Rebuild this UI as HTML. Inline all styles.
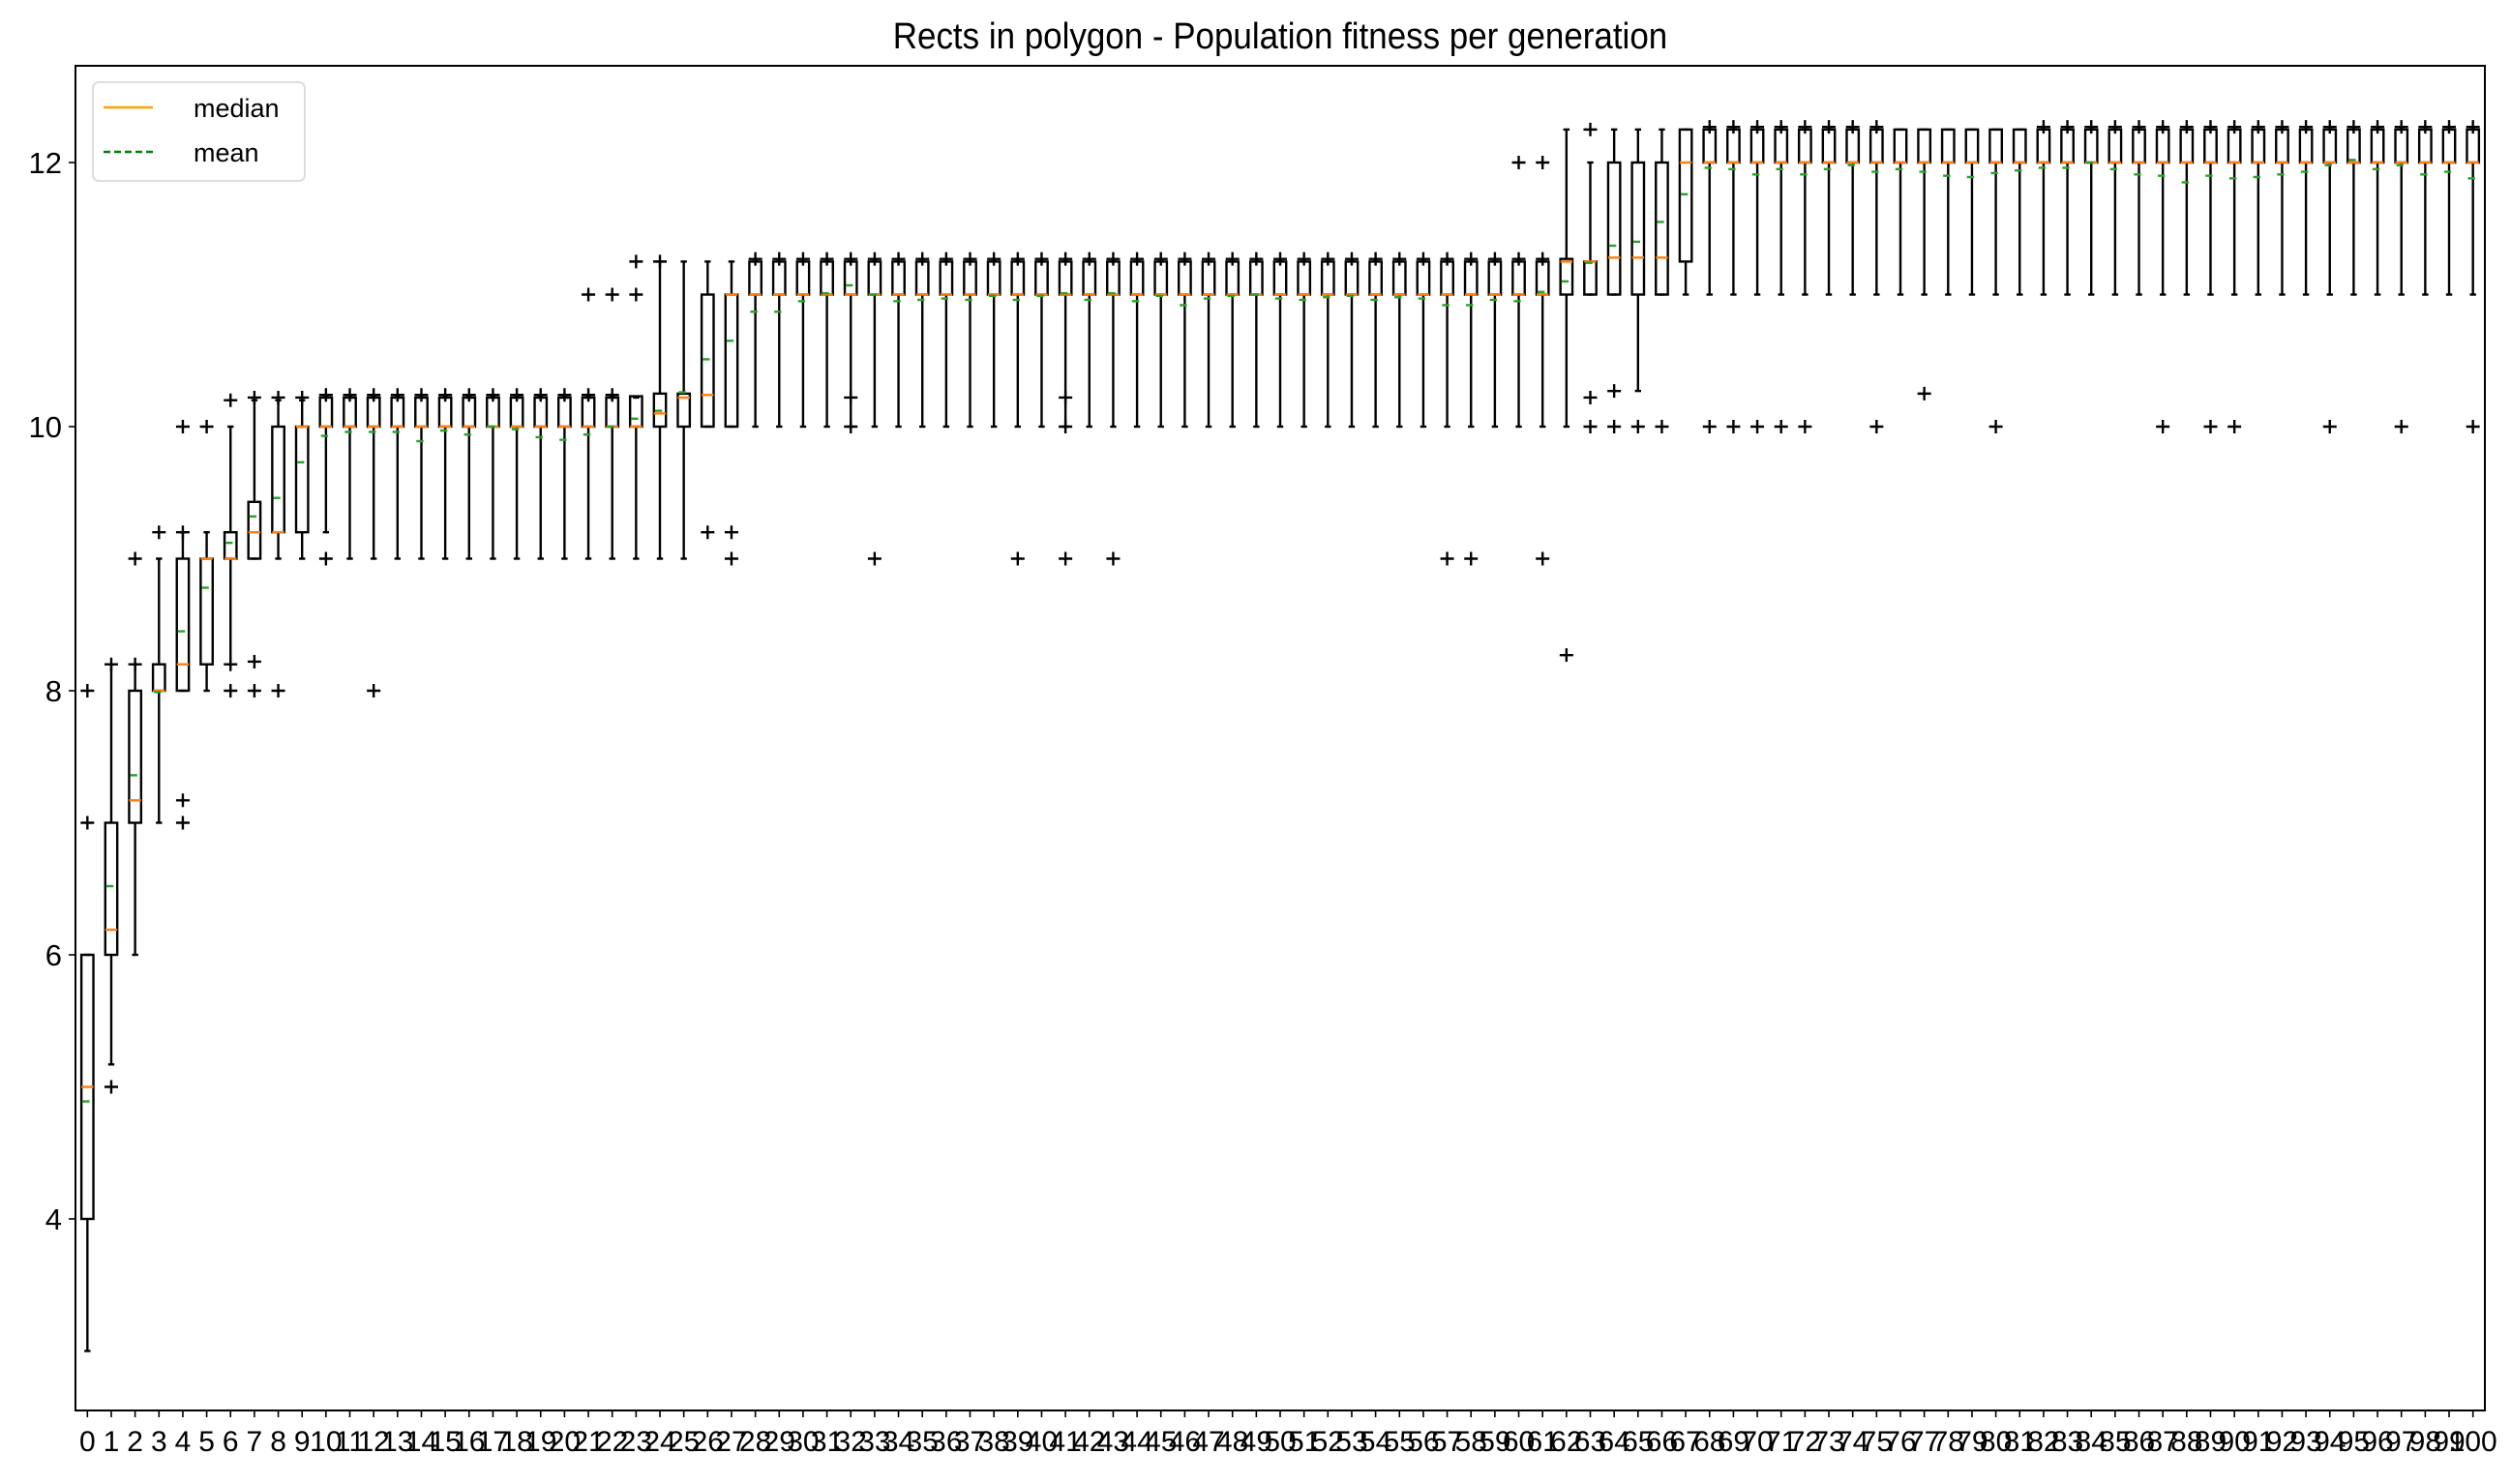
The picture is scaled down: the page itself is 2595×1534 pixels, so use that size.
<!DOCTYPE html>
<html><head><meta charset="utf-8">
<style>
html,body{margin:0;padding:0;background:#fff;}
svg text{font-family:"Liberation Sans",sans-serif;}
</style></head>
<body>
<svg id="chart" width="2595" height="1529" viewBox="0 0 2595 1529" xmlns="http://www.w3.org/2000/svg">
<rect width="2595" height="1529" fill="#fff"/>
<text x="1323" y="50" font-size="38" text-anchor="middle" transform="translate(1323,0) scale(0.92,1) translate(-1323,0)">Rects in polygon - Population fitness per generation</text>
<g id="marks"></g>
<g id="axes"></g>
<g>
<rect x="96" y="85" width="219" height="102" rx="6" fill="#fff" stroke="#ddd" stroke-width="2" fill-opacity="0.8"/>
<line x1="107" y1="111" x2="158" y2="111" stroke="#ffa500" stroke-width="2.5"/>
<text x="200" y="121" font-size="27">median</text>
<line x1="107" y1="157" x2="158" y2="157" stroke="#008000" stroke-width="2.5" stroke-dasharray="7,4"/>
<text x="200" y="167" font-size="27">mean</text>
</g>
</svg>
<script>
const q1Values = [
 4,6,7,8,8,8.2,9,9,9.2,9.2,
 10,10,10,10,10,10,10,10,10,10,
 10,10,10,10,10,10,10,10,11,11,
 11,11,11,11,11,11,11,11,11,11,
 11,11,11,11,11,11,11,11,11,11,
 11,11,11,11,11,11,11,11,11,11,
 11,11,11,11,11,11,11,11.25,12,12,
 12,12,12,12,12,12,12,12,12,12,
 12,12,12,12,12,12,12,12,12,12,
 12,12,12,12,12,12,12,12,12,12,
 12];
const q3Values = [
 6,7,8,8.2,9,9,9.2,9.43,10,10,
 10.22,10.22,10.22,10.22,10.22,10.22,10.22,10.22,10.22,10.22,
 10.22,10.22,10.22,10.23,10.25,10.25,11,11,11.25,11.25,
 11.25,11.25,11.25,11.25,11.25,11.25,11.25,11.25,11.25,11.25,
 11.25,11.25,11.25,11.25,11.25,11.25,11.25,11.25,11.25,11.25,
 11.25,11.25,11.25,11.25,11.25,11.25,11.25,11.25,11.25,11.25,
 11.25,11.25,11.27,11.25,12,12,12,12.25,12.25,12.25,
 12.25,12.25,12.25,12.25,12.25,12.25,12.25,12.25,12.25,12.25,
 12.25,12.25,12.25,12.25,12.25,12.25,12.25,12.25,12.25,12.25,
 12.25,12.25,12.25,12.25,12.25,12.25,12.25,12.25,12.25,12.25,
 12.25];
const medianValues = [
 5,6.19,7.17,8,8.2,9,9,9.2,9.2,10,
 10,10,10,10,10,10,10,10,10,10,
 10,10,10,10,10.1,10.22,10.24,11,11,11,
 11,11,11,11,11,11,11,11,11,11,
 11,11,11,11,11,11,11,11,11,11,
 11,11,11,11,11,11,11,11,11,11,
 11,11,11.25,11.25,11.28,11.28,11.28,12,12,12,
 12,12,12,12,12,12,12,12,12,12,
 12,12,12,12,12,12,12,12,12,12,
 12,12,12,12,12,12,12,12,12,12,
 12];
const meanValues = [
 4.89,6.52,7.36,7.99,8.45,8.78,9.12,9.32,9.46,9.73,
 9.93,9.96,9.96,9.96,9.89,9.97,9.94,10,9.98,9.92,
 9.9,9.94,10,10.06,10.12,10.26,10.51,10.65,10.87,10.87,
 10.95,11.01,11.07,11,10.95,10.96,10.97,10.96,10.99,10.96,
 10.99,11.01,10.96,11.01,10.95,10.99,10.92,10.97,10.99,11,
 10.97,10.96,10.98,10.99,10.96,10.98,10.97,10.92,10.92,10.96,
 10.95,11.02,11.1,11.24,11.37,11.4,11.55,11.76,11.96,11.95,
 11.91,11.95,11.91,11.95,11.98,11.93,11.95,11.93,11.9,11.89,
 11.92,11.94,11.96,11.96,12,11.95,11.91,11.9,11.85,11.9,
 11.88,11.89,11.91,11.93,11.98,12.02,11.95,11.98,11.91,11.93,
 11.88];
const whiskerLow = [
 3,5.17,6,7,8,8,8.2,9,9,9,
 9.2,9,9,9,9,9,9,9,9,9,
 9,9,9,9,9,9,10,10,10,10,
 10,10,10,10,10,10,10,10,10,10,
 10,10,10,10,10,10,10,10,10,10,
 10,10,10,10,10,10,10,10,10,10,
 10,10,10,11,11,10.27,11,11,11,11,
 11,11,11,11,11,11,11,11,11,11,
 11,11,11,11,11,11,11,11,11,11,
 11,11,11,11,11,11,11,11,11,11,
 11];
const whiskerHigh = [
 6,8.2,8.2,9,9.2,9.2,10,10.2,10.2,10.2,
 10.22,10.22,10.22,10.22,10.22,10.22,10.22,10.22,10.22,10.22,
 10.22,10.22,10.22,10.22,11.25,11.25,11.25,11.25,11.25,11.25,
 11.25,11.25,11.25,11.25,11.25,11.25,11.25,11.25,11.25,11.25,
 11.25,11.25,11.25,11.25,11.25,11.25,11.25,11.25,11.25,11.25,
 11.25,11.25,11.25,11.25,11.25,11.25,11.25,11.25,11.25,11.25,
 11.25,11.25,12.25,12,12.25,12.25,12.25,12.25,12.25,12.25,
 12.25,12.25,12.25,12.25,12.25,12.25,12.25,12.25,12.25,12.25,
 12.25,12.25,12.25,12.25,12.25,12.25,12.25,12.25,12.25,12.25,
 12.25,12.25,12.25,12.25,12.25,12.25,12.25,12.25,12.25,12.25,
 12.25];
const flierValues = [
 [8,7],[5,8.2],[9,8.2],[9.2],[9.2,10,7.17,7],[10],[10.2,8.2,8],[10.22,8.22,8],[10.22,8],[10.22],
 [10.24,9],[10.24],[10.24,8],[10.24],[10.24],[10.24],[10.24],[10.24],[10.24],[10.24],
 [10.24],[10.24,11],[10.24,11],[11,11.25],[11.25],[],[9.2],[9.2,9],[11.27],[11.27],
 [11.27],[11.27],[11.27,10.22,10],[11.27,9],[11.27],[11.27],[11.27],[11.27],[11.27],[11.27,9],
 [11.27],[11.27,10.22,10,9],[11.27],[11.27,9],[11.27],[11.27],[11.27],[11.27],[11.27],[11.27],
 [11.27],[11.27],[11.27],[11.27],[11.27],[11.27],[11.27],[11.27,9],[11.27,9],[11.27],
 [11.27,12],[11.27,12,9],[8.27],[12.25,10.22,10],[10.27,10],[10],[10],[],[12.27,10],[12.27,10],
 [12.27,10],[12.27,10],[12.27,10],[12.27],[12.27],[12.27,10],[],[10.25],[],[],
 [10],[],[12.27],[12.27],[12.27],[12.27],[12.27],[12.27,10],[12.27],[12.27,10],
 [12.27,10],[12.27],[12.27],[12.27],[12.27,10],[12.27],[12.27],[12.27,10],[12.27],[12.27],
 [12.27,10]];
const yTicks = [4,6,8,10,12];
const generations = Array.from({length:101},(_,i)=>i);

const NS='http://www.w3.org/2000/svg';
const L=78,R=2568,T=68,B=1458;
function X(i){return L+(i+0.5)*(R-L)/101;}
function Y(v){return 441-(v-10)*136.5;}
function mk(tag,attrs,parent){const e=document.createElementNS(NS,tag);for(const k in attrs)e.setAttribute(k,attrs[k]);parent.appendChild(e);return e;}
function val(arr,i){return arr[Math.min(i,arr.length-1)];}
const marks=document.getElementById('marks');
const axes=document.getElementById('axes');
const hw=6.2, cw=3.2;
generations.forEach(i=>{
  const g=mk('g',{},marks);
  
  
  const x=X(i);
  const q1=val(q1Values,i),q3=val(q3Values,i),md=val(medianValues,i),mu=val(meanValues,i),lo=val(whiskerLow,i),hi=val(whiskerHigh,i);
  const s={stroke:'#000','stroke-width':2.4,fill:'none'};
  const w1=mk('line',Object.assign({x1:x,x2:x,y1:Y(q1),y2:Y(lo)},s),g);
  
  
  const w2=mk('line',Object.assign({x1:x,x2:x,y1:Y(q3),y2:Y(hi)},s),g);
  
  
  const c1=mk('line',Object.assign({x1:x-cw,x2:x+cw,y1:Y(lo),y2:Y(lo)},s),g);
  
  
  const c2=mk('line',Object.assign({x1:x-cw,x2:x+cw,y1:Y(hi),y2:Y(hi)},s),g);
  
  
  const r=mk('rect',Object.assign({x:x-hw,y:Y(q3),width:2*hw,height:Math.max(0,Y(q1)-Y(q3))},s),g);
  
  
  const m=mk('line',{x1:x-hw,x2:x+hw,y1:Y(md),y2:Y(md),stroke:'#ff7f0e','stroke-width':2.4},g);
  
  
  const mn=mk('line',{x1:x-hw+1,x2:x+hw-4,y1:Y(mu),y2:Y(mu),stroke:'#2ca02c','stroke-width':2.4},g);
  
  
  (flierValues[i]||[]).forEach(v=>{
    const p=mk('path',{d:`M${x-7},${Y(v)}h14M${x},${Y(v)-7}v14`,stroke:'#000','stroke-width':2.4},g);
    
    
  });
  const t=mk('line',{x1:x,x2:x,y1:B,y2:B+7,stroke:'#000','stroke-width':1.6},axes);
  
  
  const tl=mk('text',{x:x,y:B+42,'font-size':30,'text-anchor':'middle'},axes);
  
  
  tl.textContent=String(i);
});
yTicks.forEach(v=>{
  const t=mk('line',{x1:L-7,x2:L,y1:Y(v),y2:Y(v),stroke:'#000','stroke-width':1.6},axes);
  
  
  const tl=mk('text',{x:L-14,y:Y(v)+11,'font-size':31,'text-anchor':'end'},axes);
  
  
  tl.textContent=String(v);
});
const frame=mk('rect',{x:L,y:T,width:R-L,height:B-T,fill:'none',stroke:'#000','stroke-width':2},axes);


</script>
</body></html>
